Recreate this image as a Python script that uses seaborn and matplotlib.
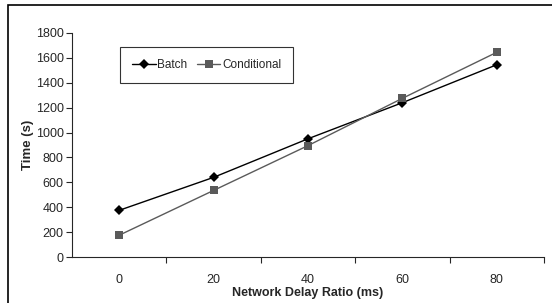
import pandas as pd
import matplotlib.pyplot as plt
import matplotlib.patches as patches
import seaborn as sns

delays = [0, 20, 40, 60, 80]
batch = [375, 640, 950, 1240, 1545]
conditional = [175, 535, 895, 1275, 1645]


def main():
    sns.set_style("ticks")
    plt.rcParams['font.family'] = ['Liberation Sans', 'DejaVu Sans']

    df = pd.DataFrame({
        'pos': list(range(len(delays))) * 2,
        'time': batch + conditional,
        'series': ['Batch'] * len(delays) + ['Conditional'] * len(delays),
    })

    fig = plt.figure(figsize=(5.52, 3.03), dpi=100)
    ax = fig.add_axes([0.1304, 0.1518, 0.8551, 0.7393])

    sns.lineplot(data=df, x='pos', y='time', hue='series', style='series',
                 palette={'Batch': 'black', 'Conditional': '#5a5a5a'},
                 markers={'Batch': 'D', 'Conditional': 's'},
                 dashes=False, linewidth=1.0, markersize=5.5,
                 markeredgewidth=0, ax=ax)

    ax.set_xlim(-0.5, len(delays) - 0.5)
    ax.set_ylim(0, 1800)
    ax.set_yticks(range(0, 1801, 200))
    ax.set_xticks(range(len(delays)))
    ax.set_xticklabels([str(d) for d in delays])
    ax.set_xticks([i + 0.5 for i in range(len(delays))], minor=True)
    ax.tick_params(axis='x', which='major', length=0, labelsize=9, pad=12)
    ax.tick_params(axis='x', which='minor', length=4, width=0.8, direction='out')
    ax.tick_params(axis='y', length=4, width=0.8, labelsize=9, pad=2)
    sns.despine(ax=ax)
    ax.spines['left'].set_linewidth(0.8)
    ax.spines['bottom'].set_linewidth(0.8)

    ax.set_xlabel('Network Delay Ratio (ms)', fontsize=9, fontweight='bold', labelpad=1)
    ax.set_ylabel('Time (s)', fontsize=9.5, fontweight='bold', labelpad=1)

    leg = ax.legend(loc='upper left', bbox_to_anchor=(0.102, 0.9375), ncol=2,
                    fontsize=8.5, frameon=True, fancybox=False, handlelength=2.0,
                    columnspacing=0.8, handletextpad=0.15, borderpad=1.0,
                    borderaxespad=0)
    leg.get_frame().set_edgecolor('black')
    leg.get_frame().set_linewidth(0.8)

    border = patches.Rectangle((0.0145, -0.05), 1.1, 1.0335, transform=fig.transFigure,
                               fill=False, edgecolor='black', linewidth=1.2)
    fig.patches.append(border)

    fig.savefig('out.png', dpi=100)


if __name__ == '__main__':
    main()
